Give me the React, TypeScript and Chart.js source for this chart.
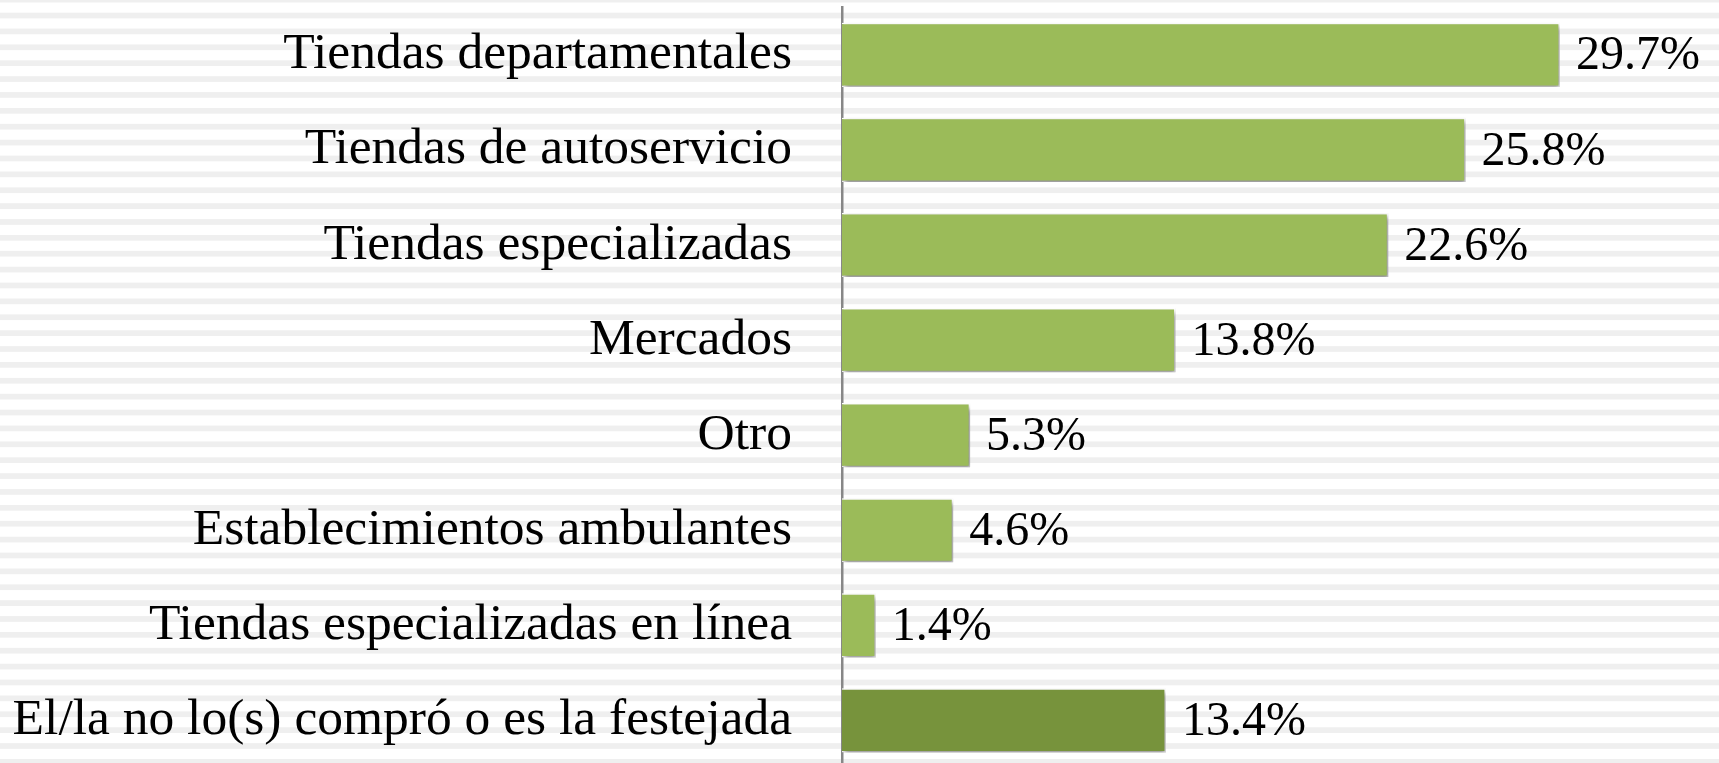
import React, { useEffect, useRef } from "react";
import { Chart, registerables } from "chart.js";

Chart.register(...registerables);

const categories = [
  "Tiendas departamentales",
  "Tiendas de autoservicio",
  "Tiendas especializadas",
  "Mercados",
  "Otro",
  "Establecimientos ambulantes",
  "Tiendas especializadas en línea",
  "El/la no lo(s) compró o es la festejada",
];
const values = [29.7, 25.8, 22.6, 13.8, 5.3, 4.6, 1.4, 13.4];
const barColors = [
  "#9BBB59", "#9BBB59", "#9BBB59", "#9BBB59",
  "#9BBB59", "#9BBB59", "#9BBB59", "#77933C",
];
const valueLabels = ["29.7%", "25.8%", "22.6%", "13.8%", "5.3%", "4.6%", "1.4%", "13.4%"];

const W = 1719;
const H = 770;
const FONT = "'Liberation Serif', 'Times New Roman', serif";

const stripesPlugin = {
  id: "stripes",
  beforeDraw(chart: any) {
    const ctx = chart.ctx;
    ctx.save();
    ctx.fillStyle = "#ffffff";
    ctx.fillRect(0, 0, chart.width, chart.height);
    ctx.fillStyle = "#efefef";
    const period = 15.88;
    for (let y = -3.2; y < chart.height; y += period) {
      ctx.fillRect(0, y, chart.width, 5.7);
    }
    ctx.restore();
  },
};

const shadowPlugin = {
  id: "barShadow",
  beforeDatasetsDraw(chart: any) {
    const ctx = chart.ctx;
    ctx.save();
    ctx.shadowColor = "rgba(0,0,0,0.45)";
    ctx.shadowBlur = 5;
    ctx.shadowOffsetX = 2;
    ctx.shadowOffsetY = 3;
  },
  afterDatasetsDraw(chart: any) {
    chart.ctx.restore();
  },
};

const valueLabelPlugin = {
  id: "valueLabels",
  afterDraw(chart: any) {
    const ctx = chart.ctx;
    const meta = chart.getDatasetMeta(0);
    ctx.save();
    ctx.fillStyle = "#000000";
    ctx.font = `48px ${FONT}`;
    ctx.textAlign = "left";
    ctx.textBaseline = "middle";
    meta.data.forEach((bar: any, i: number) => {
      ctx.fillText(valueLabels[i], bar.x + 16, bar.y + 2);
    });
    ctx.restore();
  },
};

export default function App() {
  const ref = useRef<HTMLCanvasElement | null>(null);
  useEffect(() => {
    document.body.style.margin = "0";
    const canvas = ref.current!;
    const chart = new Chart(canvas, {
      type: "bar",
      data: {
        labels: categories,
        datasets: [
          {
            data: values,
            backgroundColor: barColors,
            borderColor: "#ffffff",
            borderWidth: 1.5,
            barPercentage: 0.675,
            categoryPercentage: 1,
          },
        ],
      },
      options: {
        indexAxis: "y",
        responsive: false,
        animation: false,
        layout: { padding: { top: 7.3, bottom: 2, left: 0, right: 31 } },
        plugins: {
          legend: { display: false },
          tooltip: { enabled: false },
          title: { display: false },
        },
        scales: {
          x: {
            display: false,
            min: 0,
            max: 35,
          },
          y: {
            grid: { display: false, drawTicks: false },
            border: { display: true, color: "#878787", width: 2.5 },
            ticks: {
              color: "#000000",
              padding: 50,
              font: { family: FONT, size: 51.5 },
            },
            afterFit(scale: any) {
              scale.width = 842;
              scale.paddingTop = 0;
              scale.paddingBottom = 0;
            },
          },
        },
      },
      plugins: [stripesPlugin, shadowPlugin, valueLabelPlugin],
    });
    return () => chart.destroy();
  }, []);
  return (
    <div style={{ position: "fixed", left: 0, top: 0, width: W, height: 763, overflow: "hidden", background: "#fff" }}>
      <canvas ref={ref} width={W} height={H} style={{ width: W, height: H, display: "block" }} />
    </div>
  );
}
